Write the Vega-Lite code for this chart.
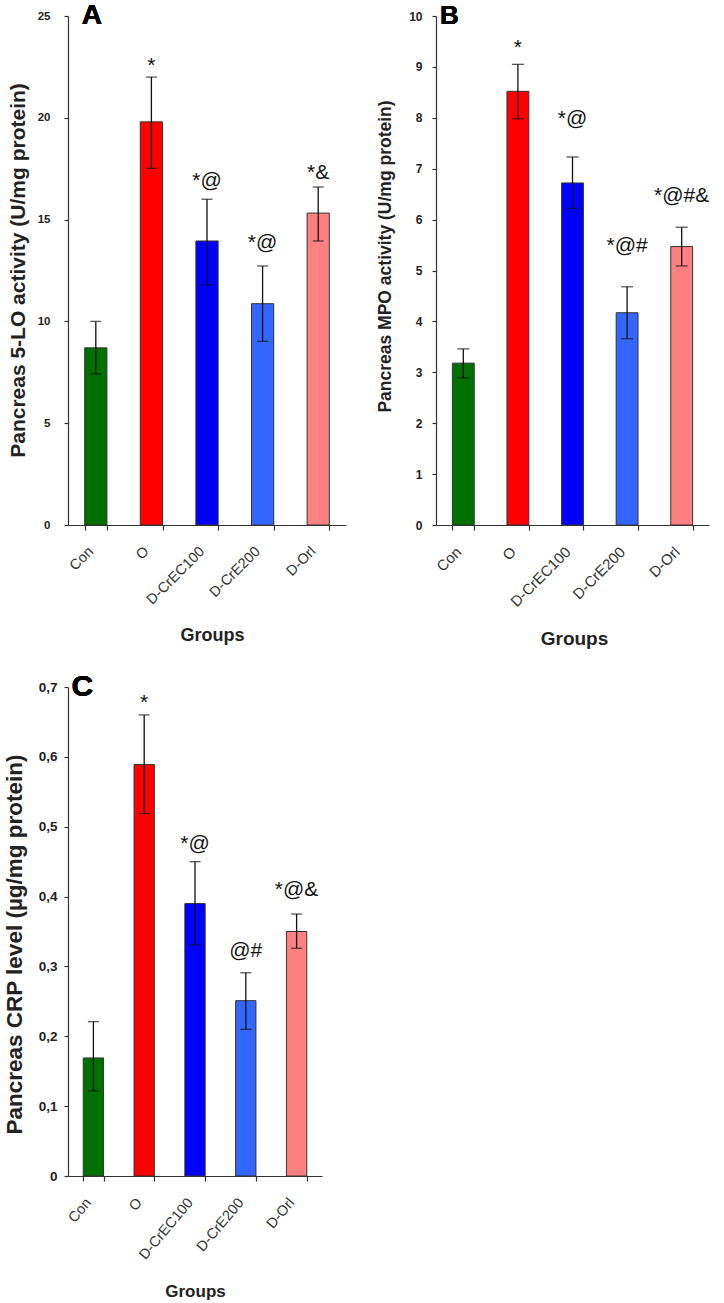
{
  "$schema": "https://vega.github.io/schema/vega-lite/v6.json",
  "background": "white",
  "padding": {"left": 2, "top": 2, "right": 5, "bottom": 5},
  "config": {
    "view": {"stroke": null},
    "font": "Liberation Sans",
    "axis": {"grid": false, "domainColor": "#333333", "tickColor": "#333333", "domainWidth": 1.2, "tickWidth": 1.2}
  },
  "datasets": {
    "a": [
      {"group": "Con", "value": 8.7, "lo": 7.42, "hi": 10.0, "label": "", "labelAt": 10.5},
      {"group": "O", "value": 19.8, "lo": 17.52, "hi": 22.0, "label": "*", "labelAt": 22.25},
      {"group": "D-CrEC100", "value": 13.95, "lo": 11.8, "hi": 16.0, "label": "*@", "labelAt": 16.6},
      {"group": "D-CrE200", "value": 10.87, "lo": 9.02, "hi": 12.72, "label": "*@", "labelAt": 13.56},
      {"group": "D-Orl", "value": 15.32, "lo": 13.95, "hi": 16.6, "label": "*&", "labelAt": 17.0}
    ],
    "b": [
      {"group": "Con", "value": 3.18, "lo": 2.89, "hi": 3.46, "label": "", "labelAt": 4.0},
      {"group": "O", "value": 8.52, "lo": 7.98, "hi": 9.05, "label": "*", "labelAt": 9.26},
      {"group": "D-CrEC100", "value": 6.72, "lo": 6.22, "hi": 7.23, "label": "*@", "labelAt": 7.85},
      {"group": "D-CrE200", "value": 4.17, "lo": 3.66, "hi": 4.68, "label": "*@#", "labelAt": 5.36},
      {"group": "D-Orl", "value": 5.47, "lo": 5.09, "hi": 5.85, "label": "*@#&", "labelAt": 6.34}
    ],
    "c": [
      {"group": "Con", "value": 0.169, "lo": 0.122, "hi": 0.221, "label": "", "labelAt": 0.25},
      {"group": "O", "value": 0.589, "lo": 0.519, "hi": 0.66, "label": "*", "labelAt": 0.669},
      {"group": "D-CrEC100", "value": 0.39, "lo": 0.331, "hi": 0.45, "label": "*@", "labelAt": 0.466},
      {"group": "D-CrE200", "value": 0.251, "lo": 0.21, "hi": 0.291, "label": "@#", "labelAt": 0.313},
      {"group": "D-Orl", "value": 0.35, "lo": 0.326, "hi": 0.375, "label": "*@&", "labelAt": 0.401}
    ]
  },
  "columns": 2,
  "spacing": {"row": 162, "column": 90},
  "bounds": "flush",
  "concat": [
    {
      "width": 278,
      "height": 509,
      "data": {"name": "a"},
      "encoding": {
        "x": {"field": "group", "type": "nominal", "sort": null,
          "scale": {"paddingInner": 0.6, "paddingOuter": 0.3},
          "axis": {"title": "Groups", "titleFontSize": 18, "titleFontWeight": "bold", "titleColor": "#222222",
            "titleX": 144, "titleY": 110, "titleAlign": "center", "titleBaseline": "middle",
            "labelAngle": -45, "labelAlign": "right", "labelBaseline": "middle", "labelFontSize": 14.5,
            "labelColor": "#333333", "labelPadding": 19, "labelOffset": -5, "tickSize": 5, "tickBand": "extent"}
        }
      },
      "layer": [
        {"mark": {"type": "bar", "stroke": "#333333", "strokeWidth": 1},
          "encoding": {
            "y": {"field": "value", "type": "quantitative",
              "scale": {"domain": [0, 25], "nice": false},
              "axis": {"values": [0, 5, 10, 15, 20, 25], "title": "Pancreas 5-LO activity (U/mg protein)",
                "titleFontSize": 21, "titleFontWeight": "bold", "titleColor": "#222222",
                "titleX": -50, "titleY": 254, "titleAngle": -90, "titleAlign": "center", "titleBaseline": "middle",
                "labelFontSize": 11.5, "labelFontWeight": "bold", "labelColor": "#222222", "labelPadding": 14, "tickSize": 4}},
            "color": {"field": "group", "type": "nominal", "legend": null,
              "scale": {"domain": ["Con", "O", "D-CrEC100", "D-CrE200", "D-Orl"], "range": ["#007000", "#FF0000", "#0000FF", "#3366FF", "#FF8080"]}}
          }},
        {"mark": {"type": "rule", "color": "#111111", "strokeWidth": 1.3},
          "encoding": {"y": {"field": "lo", "type": "quantitative"}, "y2": {"field": "hi"}}},
        {"mark": {"type": "tick", "color": "#111111", "size": 11, "thickness": 1.3},
          "encoding": {"y": {"field": "lo", "type": "quantitative"}}},
        {"mark": {"type": "tick", "color": "#111111", "size": 11, "thickness": 1.3},
          "encoding": {"y": {"field": "hi", "type": "quantitative"}}},
        {"mark": {"type": "text", "fontSize": 21, "baseline": "alphabetic", "align": "center", "color": "#111111"},
          "encoding": {"y": {"field": "labelAt", "type": "quantitative"}, "text": {"field": "label"}}},
        {"mark": {"type": "text", "fontSize": 28, "fontWeight": "bold", "baseline": "alphabetic", "align": "center", "dx": -4, "dy": 8, "color": "#000000"},
          "encoding": {"x": {"datum": "Con"}, "y": {"datum": 25}, "text": {"value": "A"}}}
      ]
    },
    {
      "width": 273,
      "height": 509,
      "data": {"name": "b"},
      "encoding": {
        "x": {"field": "group", "type": "nominal", "sort": null,
          "scale": {"paddingInner": 0.6, "paddingOuter": 0.3},
          "axis": {"title": "Groups", "titleFontSize": 19, "titleFontWeight": "bold", "titleColor": "#222222",
            "titleX": 138, "titleY": 113, "titleAlign": "center", "titleBaseline": "middle",
            "labelAngle": -45, "labelAlign": "right", "labelBaseline": "middle", "labelFontSize": 15,
            "labelColor": "#333333", "labelPadding": 19, "labelOffset": -5, "tickSize": 5, "tickBand": "extent"}
        }
      },
      "layer": [
        {"mark": {"type": "bar", "stroke": "#333333", "strokeWidth": 1},
          "encoding": {
            "y": {"field": "value", "type": "quantitative",
              "scale": {"domain": [0, 10], "nice": false},
              "axis": {"values": [0, 1, 2, 3, 4, 5, 6, 7, 8, 9, 10], "title": "Pancreas MPO activity (U/mg protein)",
                "titleFontSize": 17.5, "titleFontWeight": "bold", "titleColor": "#222222",
                "titleX": -51, "titleY": 240, "titleAngle": -90, "titleAlign": "center", "titleBaseline": "middle",
                "labelFontSize": 12, "labelFontWeight": "bold", "labelColor": "#222222", "labelPadding": 10, "tickSize": 4}},
            "color": {"field": "group", "type": "nominal", "legend": null,
              "scale": {"domain": ["Con", "O", "D-CrEC100", "D-CrE200", "D-Orl"], "range": ["#007000", "#FF0000", "#0000FF", "#3366FF", "#FF8080"]}}
          }},
        {"mark": {"type": "rule", "color": "#111111", "strokeWidth": 1.3},
          "encoding": {"y": {"field": "lo", "type": "quantitative"}, "y2": {"field": "hi"}}},
        {"mark": {"type": "tick", "color": "#111111", "size": 12, "thickness": 1.3},
          "encoding": {"y": {"field": "lo", "type": "quantitative"}}},
        {"mark": {"type": "tick", "color": "#111111", "size": 12, "thickness": 1.3},
          "encoding": {"y": {"field": "hi", "type": "quantitative"}}},
        {"mark": {"type": "text", "fontSize": 21, "baseline": "alphabetic", "align": "center", "color": "#111111"},
          "encoding": {"y": {"field": "labelAt", "type": "quantitative"}, "text": {"field": "label"}}},
        {"mark": {"type": "text", "fontSize": 26, "fontWeight": "bold", "baseline": "alphabetic", "align": "center", "dx": -14, "dy": 8, "color": "#000000"},
          "encoding": {"x": {"datum": "Con"}, "y": {"datum": 10}, "text": {"value": "B"}}}
      ]
    },
    {
      "width": 254,
      "height": 489,
      "data": {"name": "c"},
      "encoding": {
        "x": {"field": "group", "type": "nominal", "sort": null,
          "scale": {"paddingInner": 0.6, "paddingOuter": 0.3},
          "axis": {"title": "Groups", "titleFontSize": 17, "titleFontWeight": "bold", "titleColor": "#222222",
            "titleX": 127, "titleY": 115, "titleAlign": "center", "titleBaseline": "middle",
            "labelAngle": -50, "labelAlign": "right", "labelBaseline": "middle", "labelFontSize": 14.5,
            "labelColor": "#333333", "labelPadding": 19, "labelOffset": -5, "tickSize": 5, "tickBand": "extent"}
        }
      },
      "layer": [
        {"mark": {"type": "bar", "stroke": "#333333", "strokeWidth": 1},
          "encoding": {
            "y": {"field": "value", "type": "quantitative",
              "scale": {"domain": [0, 0.7], "nice": false},
              "axis": {"values": [0, 0.1, 0.2, 0.3, 0.4, 0.5, 0.6, 0.7], "title": "Pancreas CRP level (µg/mg protein)",
                "labelExpr": "datum.value == 0 ? '0' : replace(format(datum.value, '.1f'), '.', ',')",
                "titleFontSize": 22.5, "titleFontWeight": "bold", "titleColor": "#222222",
                "titleX": -54, "titleY": 257, "titleAngle": -90, "titleAlign": "center", "titleBaseline": "middle",
                "labelFontSize": 13.5, "labelFontWeight": "bold", "labelColor": "#222222", "labelPadding": 7, "tickSize": 4}},
            "color": {"field": "group", "type": "nominal", "legend": null,
              "scale": {"domain": ["Con", "O", "D-CrEC100", "D-CrE200", "D-Orl"], "range": ["#007000", "#FF0000", "#0000FF", "#3366FF", "#FF8080"]}}
          }},
        {"mark": {"type": "rule", "color": "#111111", "strokeWidth": 1.3},
          "encoding": {"y": {"field": "lo", "type": "quantitative"}, "y2": {"field": "hi"}}},
        {"mark": {"type": "tick", "color": "#111111", "size": 11, "thickness": 1.3},
          "encoding": {"y": {"field": "lo", "type": "quantitative"}}},
        {"mark": {"type": "tick", "color": "#111111", "size": 11, "thickness": 1.3},
          "encoding": {"y": {"field": "hi", "type": "quantitative"}}},
        {"mark": {"type": "text", "fontSize": 21, "baseline": "alphabetic", "align": "center", "color": "#111111"},
          "encoding": {"y": {"field": "labelAt", "type": "quantitative"}, "text": {"field": "label"}}},
        {"mark": {"type": "text", "fontSize": 30, "fontWeight": "bold", "baseline": "alphabetic", "align": "center", "dx": -11, "dy": 9, "color": "#000000"},
          "encoding": {"x": {"datum": "Con"}, "y": {"datum": 0.7}, "text": {"value": "C"}}}
      ]
    }
  ]
}
